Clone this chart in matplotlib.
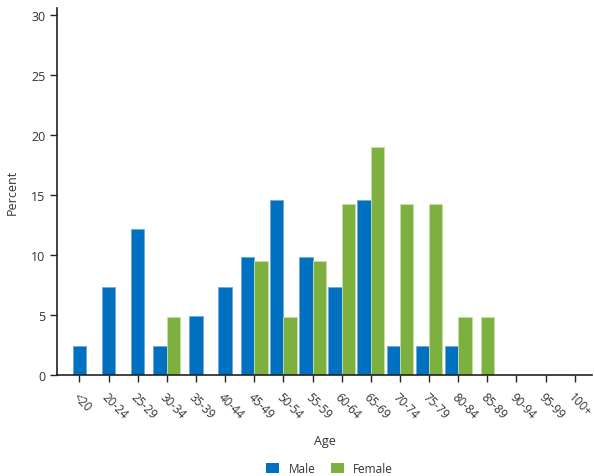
import numpy as np
import matplotlib.pyplot as plt
from matplotlib.patches import Patch

plt.rcParams['font.family'] = ['Open Sans', 'DejaVu Sans']

age_groups = ['<20', '20-24', '25-29', '30-34', '35-39', '40-44', '45-49', '50-54',
              '55-59', '60-64', '65-69', '70-74', '75-79', '80-84', '85-89', '90-94',
              '95-99', '100+']
male = [2.4, 7.3, 12.2, 2.4, 4.9, 7.3, 9.8, 14.6, 9.8, 7.3, 14.6, 2.4, 2.4, 2.4, 0, 0, 0, 0]
female = [0, 0, 0, 4.8, 0, 0, 9.5, 4.8, 9.5, 14.3, 19.0, 14.3, 14.3, 4.8, 4.8, 0, 0, 0]

blue = '#0070c0'
green = '#7db03f'
text_col = '#333333'

fig = plt.figure(figsize=(5.94, 4.77), dpi=100)
ax = fig.add_axes([0.096, 0.2117, 0.901, 0.7693])

w = 0.46
x = np.arange(len(age_groups))
for i in x:
    m, f = male[i], female[i]
    # a lone bar sits on its tick, a pair sits either side of it
    if m > 0 and f > 0:
        mx, fx = i - w / 2, i + w / 2
    else:
        mx, fx = i, i
    if m > 0:
        ax.bar(mx, m, width=w, color=blue, edgecolor='#6fa8dc', linewidth=0.6)
    if f > 0:
        ax.bar(fx, f, width=w, color=green, edgecolor='#c5e0a5', linewidth=0.6)

ax.set_xlim(-0.77, 17.6)
ax.set_ylim(0, 30.6)
ax.set_yticks([0, 5, 10, 15, 20, 25, 30])
ax.set_xticks(x)
ax.set_xticklabels(age_groups, rotation=-45, ha='left', va='top', rotation_mode='anchor',
                   fontsize=8.5, color=text_col)
ax.tick_params(axis='x', length=5, width=1, color='#222222', pad=6)
ax.tick_params(axis='y', length=5, width=1, color='#222222', labelsize=9, labelcolor=text_col)

for s in ['top', 'right']:
    ax.spines[s].set_visible(False)
for s in ['left', 'bottom']:
    ax.spines[s].set_color('#222222')
    ax.spines[s].set_linewidth(1.2)

ax.set_ylabel('Percent', fontsize=9, color=text_col, labelpad=9)
ax.set_xlabel('Age', fontsize=9, color=text_col, labelpad=9)

handles = [Patch(facecolor=blue, label='Male'), Patch(facecolor=green, label='Female')]
fig.legend(handles=handles, loc='lower center', bbox_to_anchor=(0.555, -0.02), ncol=2,
           frameon=False, fontsize=8.5, handlelength=1.1, handleheight=0.9,
           columnspacing=1.3, labelcolor=text_col)

fig.savefig('out.png', dpi=100)
